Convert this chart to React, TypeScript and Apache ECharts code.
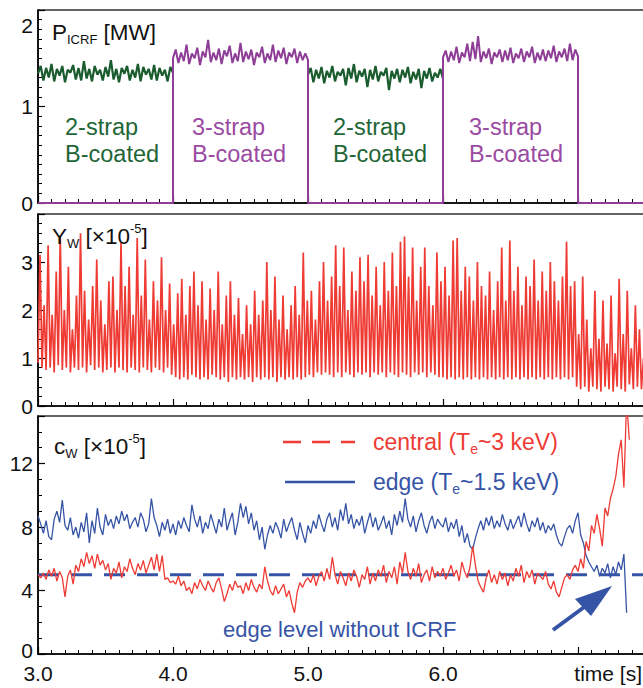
import React, { useEffect, useRef } from "react";
import * as echarts from "echarts";

const FONT = '"Liberation Sans", Arial, Helvetica, sans-serif';
const RED = "#ee3b34";
const BLUE = "#3654a6";
const GREEN = "#1b5c2e";
const GREEN_TXT = "#1f6636";
const PURPLE = "#8f3e97";
const PURPLE_TXT = "#9a4aa2";

const X_MIN = 3.0;
const X_MAX = 8.0;
const X_TICK_LABELS = ["3.0", "4.0", "5.0", "6.0"];

// ---------- Panel 1: P_ICRF [MW], sampled every 0.02 s ----------
const P_STEP = 0.02;
const pGreen1 = [1.34,1.42,1.27,1.40,1.30,1.44,1.26,1.39,1.32,1.42,1.25,1.38,1.35,1.43,1.28,1.40,1.27,1.47,1.29,1.39,1.26,1.42,1.33,1.38,1.27,1.41,1.31,1.48,1.28,1.39,1.25,1.40,1.34,1.42,1.27,1.38,1.30,1.44,1.26,1.41,1.33,1.39,1.28,1.43,1.27,1.40,1.32,1.38,1.26,1.41,1.35];
const pPurple1 = [1.50,1.59,1.45,1.56,1.47,1.64,1.44,1.55,1.50,1.61,1.43,1.57,1.51,1.69,1.46,1.56,1.48,1.60,1.44,1.58,1.52,1.63,1.45,1.55,1.47,1.66,1.46,1.57,1.49,1.59,1.43,1.56,1.51,1.62,1.45,1.55,1.48,1.64,1.46,1.58,1.50,1.61,1.44,1.56,1.51,1.60,1.45,1.57,1.48,1.55,1.48];
const pGreen2 = [1.33,1.40,1.25,1.38,1.29,1.41,1.24,1.37,1.30,1.42,1.26,1.36,1.32,1.39,1.22,1.40,1.29,1.44,1.25,1.37,1.31,1.39,1.20,1.38,1.28,1.42,1.26,1.36,1.32,1.40,1.17,1.37,1.29,1.39,1.25,1.38,1.30,1.41,1.24,1.36,1.28,1.39,1.19,1.37,1.29,1.40,1.26,1.35,1.30,1.39,1.29];
const pPurple2 = [1.51,1.58,1.46,1.57,1.48,1.62,1.45,1.56,1.51,1.65,1.47,1.67,1.49,1.73,1.46,1.57,1.50,1.60,1.44,1.56,1.51,1.59,1.46,1.58,1.48,1.61,1.45,1.55,1.50,1.60,1.46,1.57,1.51,1.62,1.45,1.56,1.48,1.59,1.47,1.58,1.50,1.63,1.46,1.57,1.51,1.60,1.47,1.65,1.48,1.59,1.52];
const P_GREEN1_START = 3.0;
const P_PURPLE1_START = 4.0;
const P_GREEN2_START = 5.0;
const P_PURPLE2_START = 6.0;
const P_OFF_END = 7.0;
const P_LAST = 7.6;

// ---------- Panel 2: Y_W [x1e-5], sampled every 0.015 s from 3.0 ----------
const YW_STEP = 0.015;
const yW = [
  0.9,3.15,0.8,2.1,0.75,3.35,0.8,1.9,0.7,2.8,0.85,3.55,0.75,2.0,0.8,2.9,0.7,1.6,0.8,2.3,
  0.75,3.6,0.8,2.4,0.7,1.8,0.85,2.5,0.75,3.05,0.8,2.2,0.7,1.7,0.75,2.6,0.8,2.7,0.7,2.0,
  0.8,3.4,0.75,2.5,0.7,2.9,0.8,1.9,0.75,3.5,0.7,2.3,0.8,3.05,0.75,1.8,0.7,2.6,0.8,2.2,
  0.75,3.1,0.7,2.0,0.8,2.55,0.65,1.7,0.6,2.35,0.55,2.65,0.6,1.9,0.55,2.5,0.65,2.8,0.6,2.1,
  0.55,2.6,0.6,1.8,0.55,2.45,0.65,2.0,0.6,2.8,0.55,1.7,0.6,2.3,0.5,2.6,0.6,1.9,0.55,2.25,
  0.6,1.5,0.55,2.1,0.6,1.7,0.5,2.4,0.6,1.9,0.55,2.2,0.6,3.0,0.55,2.0,0.6,2.7,0.5,1.8,
  0.6,2.3,0.55,1.6,0.6,2.1,0.55,2.5,0.6,1.9,0.55,3.2,0.6,2.2,0.65,2.4,0.6,1.8,0.7,2.6,
  0.65,3.0,0.7,2.2,0.65,2.7,0.6,3.35,0.7,2.5,0.6,3.3,0.7,2.0,0.65,2.8,0.6,2.4,0.7,3.1,
  0.65,2.6,0.7,3.15,0.6,2.3,0.7,2.9,0.65,2.1,0.7,3.0,0.6,2.4,0.7,3.2,0.65,2.5,0.6,3.42,
  0.7,3.53,0.65,2.7,0.6,3.3,0.7,2.2,0.65,2.9,0.7,3.3,0.6,2.5,0.7,2.1,0.65,3.2,0.6,2.6,
  0.6,2.9,0.55,2.3,0.6,3.45,0.55,3.5,0.6,2.4,0.55,2.9,0.6,2.7,0.55,2.2,0.6,3.0,0.55,2.5,
  0.6,2.3,0.55,2.8,0.6,2.0,0.55,2.6,0.6,3.3,0.55,2.2,0.6,3.45,0.55,2.4,0.6,2.9,0.55,2.1,
  0.6,2.7,0.55,2.5,0.6,3.05,0.55,2.2,0.6,2.8,0.55,2.4,0.6,3.0,0.55,2.6,0.6,2.2,0.55,2.7,
  0.6,3.42,0.55,2.5,0.6,2.6,0.4,1.5,0.35,2.7,0.4,1.8,0.3,1.2,0.4,2.4,0.35,1.4,0.3,2.2,
  0.4,1.3,0.35,2.3,0.3,1.1,0.4,2.65,0.35,1.5,0.3,2.4,0.45,1.2,0.35,2.1,0.4,1.6,0.35,1.0,
];

// ---------- Panel 3: c_W [x1e-5], sampled every 0.02 s from 3.0 ----------
const C_STEP = 0.02;
const cCentral = [
  5.0,4.8,5.1,4.7,5.3,4.9,5.4,4.6,5.2,4.8,3.6,4.9,5.3,4.4,5.6,5.2,6.0,5.5,6.4,5.7,6.2,5.4,6.3,5.6,5.9,
  5.3,5.7,4.7,5.4,5.1,5.8,4.8,5.5,5.2,6.0,5.4,5.0,5.7,5.3,5.9,5.1,5.6,6.1,5.3,6.3,5.2,6.2,4.7,4.8,4.5,
  4.6,4.4,4.9,4.3,4.6,4.0,4.2,3.8,4.5,4.1,4.7,4.3,4.0,4.6,4.2,3.9,4.5,4.8,4.1,3.3,3.8,4.4,4.0,4.6,4.2,
  4.3,3.8,4.5,4.0,4.7,4.2,3.9,4.4,4.1,5.5,4.6,4.0,3.7,4.3,3.8,4.1,4.4,3.6,4.0,3.2,2.6,3.9,4.5,4.2,4.6,
  4.8,4.5,5.0,4.3,4.9,5.2,4.6,5.4,4.7,6.1,5.0,4.4,5.2,4.8,4.3,5.1,4.6,5.3,4.9,4.2,5.0,4.7,5.5,4.4,5.1,
  4.6,5.3,4.9,5.6,4.5,5.2,4.8,5.5,4.4,5.8,5.1,6.4,5.2,4.7,5.4,4.9,5.7,4.5,5.0,5.3,4.6,5.5,4.8,5.2,4.9,
  5.4,4.7,5.1,5.6,4.9,5.3,4.6,5.8,5.2,4.8,5.5,6.8,5.6,4.6,4.2,3.9,4.8,5.3,4.5,5.0,4.4,5.2,4.7,5.1,4.3,
  5.0,4.6,5.4,4.9,5.6,4.5,5.2,4.8,5.3,4.4,5.1,4.9,4.7,5.2,4.4,4.1,4.6,3.9,3.6,4.2,4.8,5.0,4.7,5.3,5.6,
  5.2,6.0,5.4,7.1,6.5,8.1,7.6,8.8,7.9,6.8,9.2,8.7,9.8,10.4,11.2,12.6,13.5,10.5,16.0,13.5,
];
const cEdge = [
  8.7,8.2,7.6,8.4,7.4,7.2,8.5,9.0,8.3,9.7,8.1,7.8,8.6,7.5,8.0,7.3,8.3,7.7,8.9,7.0,8.4,7.6,9.2,8.0,7.5,
  8.8,8.1,8.5,7.9,8.7,8.2,9.0,8.4,8.8,7.9,8.3,8.6,8.0,8.9,8.5,7.7,8.2,9.8,8.6,8.1,7.4,8.3,7.8,8.5,7.6,
  8.2,7.5,8.4,7.9,8.6,8.1,7.7,9.4,8.5,8.0,8.7,7.6,8.3,7.9,8.8,8.2,7.6,8.5,8.0,9.2,7.8,8.4,8.9,7.5,8.3,
  9.5,8.6,9.3,8.2,8.9,7.8,8.4,7.2,8.0,6.6,7.5,8.1,7.6,8.3,7.9,7.3,8.5,7.7,8.2,8.6,7.8,7.2,8.3,7.6,7.0,
  8.1,7.6,8.4,7.9,8.8,8.2,7.7,8.5,8.9,8.0,8.6,7.8,9.1,8.4,9.5,8.2,8.8,7.9,8.5,8.1,8.7,7.6,8.3,8.9,8.0,
  8.6,7.8,8.2,8.7,7.9,8.4,7.5,8.8,8.1,9.0,8.3,9.8,8.5,8.0,8.7,7.7,8.4,8.9,8.1,7.6,8.3,8.7,7.9,8.5,8.2,
  8.0,8.6,7.7,8.3,7.9,8.5,7.4,8.1,7.0,7.6,6.8,6.6,7.3,7.9,8.4,7.8,8.6,8.1,8.7,7.9,8.4,8.0,8.8,8.2,7.8,
  8.5,7.9,8.3,8.7,8.0,8.9,8.2,7.7,8.4,8.0,8.6,7.8,8.3,7.6,8.1,7.8,8.2,7.5,7.0,6.8,7.4,7.9,8.1,7.6,8.4,
  8.9,7.5,7.0,6.2,5.8,5.5,5.2,5.6,4.9,5.4,5.1,5.7,4.8,5.5,5.0,5.8,5.3,6.3,2.6,
];
const EDGE_LEVEL_NO_ICRF = 5;

// ---------- helpers ----------
const toPairs = (start: number, step: number, vals: number[]) =>
  vals.map((v, i) => [+(start + i * step).toFixed(4), v]);

const mkX = (gi: number, showLabels: boolean) => ({
  type: "value",
  gridIndex: gi,
  min: X_MIN,
  max: X_MAX,
  interval: 1,
  axisLine: { show: true, onZero: false, lineStyle: { color: "#000", width: 1.6 } },
  axisTick: { show: true, inside: true, length: 7, lineStyle: { color: "#000", width: 1.2 } },
  minorTick: { show: true, splitNumber: 10, length: 4, lineStyle: { color: "#000", width: 1 } },
  splitLine: { show: false },
  minorSplitLine: { show: false },
  axisLabel: {
    show: showLabels,
    fontSize: 21,
    fontFamily: FONT,
    color: "#111",
    margin: 9,
    hideOverlap: false,
    formatter: (v: number) => {
      const i = Math.round(v - X_MIN);
      if (Math.abs(v - Math.round(v)) > 1e-6) return "";
      return i >= 0 && i < X_TICK_LABELS.length ? X_TICK_LABELS[i] : "";
    },
  },
});

const mkY = (gi: number, max: number, interval: number, minorSplit: number, fmt: (v: number) => string) => ({
  type: "value",
  gridIndex: gi,
  min: 0,
  max,
  interval,
  axisLine: { show: true, onZero: false, lineStyle: { color: "#000", width: 1.6 } },
  axisTick: { show: true, inside: true, length: 7, lineStyle: { color: "#000", width: 1.2 } },
  minorTick: { show: true, splitNumber: minorSplit, length: 4, lineStyle: { color: "#000", width: 1 } },
  splitLine: { show: false },
  minorSplitLine: { show: false },
  axisLabel: { fontSize: 21, fontFamily: FONT, color: "#111", margin: 5, formatter: fmt },
});

const gridBase = {
  left: 38,
  width: 675,
  show: true,
  borderColor: "#333",
  borderWidth: 1.5,
  containLabel: false,
  outerBoundsMode: "none",
};

const txt = (x: number, y: number, text: string, fill: string, extra: any = {}) => ({
  type: "text",
  x,
  y,
  z: 100,
  style: {
    text,
    fill,
    fontFamily: FONT,
    fontSize: 22,
    align: "left",
    textAlign: "left",
    verticalAlign: "middle",
    textVerticalAlign: "middle",
    ...extra,
  },
});

const richLabel = (mainSize: number, fill: string) => ({
  m: { fontSize: mainSize, lineHeight: 28, fontFamily: FONT, fill },
  s: { fontSize: 13, lineHeight: 13, verticalAlign: "bottom", fontFamily: FONT, fill },
  p: { fontSize: 13, lineHeight: 21, verticalAlign: "top", fontFamily: FONT, fill },
});

export default function App() {
  const ref = useRef<HTMLDivElement>(null);

  useEffect(() => {
    if (!ref.current) return;
    const chart = echarts.init(ref.current, undefined, { renderer: "svg" });

    const purpleData = [
      [P_GREEN1_START, 0],
      [P_PURPLE1_START, 0],
      ...toPairs(P_PURPLE1_START, P_STEP, pPurple1),
      [P_GREEN2_START, 0],
      [P_PURPLE2_START, 0],
      ...toPairs(P_PURPLE2_START, P_STEP, pPurple2),
      [P_OFF_END, 0],
      [P_LAST, 0],
    ];

    const lineBase = { type: "line", showSymbol: false, symbol: "none", animation: false, clip: true };

    const series: any[] = [
      { ...lineBase, name: "green1", xAxisIndex: 0, yAxisIndex: 0, data: toPairs(P_GREEN1_START, P_STEP, pGreen1), lineStyle: { color: GREEN, width: 2.2 } },
      { ...lineBase, name: "green2", xAxisIndex: 0, yAxisIndex: 0, data: toPairs(P_GREEN2_START, P_STEP, pGreen2), lineStyle: { color: GREEN, width: 2.2 } },
      { ...lineBase, name: "purple", xAxisIndex: 0, yAxisIndex: 0, data: purpleData, lineStyle: { color: PURPLE, width: 2 } },
      { ...lineBase, name: "Yw", xAxisIndex: 1, yAxisIndex: 1, data: toPairs(X_MIN, YW_STEP, yW), lineStyle: { color: RED, width: 1.7 } },
      { ...lineBase, name: "edgeLevel", xAxisIndex: 2, yAxisIndex: 2, z: 1, data: [[X_MIN, EDGE_LEVEL_NO_ICRF], [P_LAST, EDGE_LEVEL_NO_ICRF]], lineStyle: { color: BLUE, width: 3, type: [21, 12] } },
      { ...lineBase, name: "edge", xAxisIndex: 2, yAxisIndex: 2, z: 2, data: toPairs(X_MIN, C_STEP, cEdge), lineStyle: { color: BLUE, width: 1.3 } },
      { ...lineBase, name: "central", xAxisIndex: 2, yAxisIndex: 2, z: 3, data: toPairs(X_MIN, C_STEP, cCentral), lineStyle: { color: RED, width: 1.3 } },
    ];

    const graphic: any[] = [
      txt(33, 25, "2", "#111", { fontSize: 21, align: "right", textAlign: "right" }),
      txt(33, 650, "0", "#111", { fontSize: 21, align: "right", textAlign: "right" }),
      {
        type: "text", x: 52, y: 32, z: 100,
        style: { text: "{m|P}{s|ICRF}{m| [MW]}", fill: "#111", verticalAlign: "middle", textVerticalAlign: "middle", rich: richLabel(22.5, "#111") },
      },
      {
        type: "text", x: 52, y: 236, z: 100,
        style: { text: "{m|Y}{s|W}{m| [×10}{p|-5}{m|]}", fill: "#111", verticalAlign: "middle", textVerticalAlign: "middle", rich: richLabel(22.5, "#111") },
      },
      {
        type: "text", x: 54, y: 446, z: 100,
        style: { text: "{m|c}{s|W}{m| [×10}{p|-5}{m|]}", fill: "#111", verticalAlign: "middle", textVerticalAlign: "middle", rich: richLabel(22.5, "#111") },
      },
      txt(65, 140, "2-strap\nB-coated", GREEN_TXT, { fontSize: 23.5, lineHeight: 27 }),
      txt(192, 140, "3-strap\nB-coated", PURPLE_TXT, { fontSize: 23.5, lineHeight: 27 }),
      txt(333, 140, "2-strap\nB-coated", GREEN_TXT, { fontSize: 23.5, lineHeight: 27 }),
      txt(469, 140, "3-strap\nB-coated", PURPLE_TXT, { fontSize: 23.5, lineHeight: 27 }),
      { type: "line", z: 100, shape: { x1: 283, y1: 442, x2: 355, y2: 442 }, style: { stroke: RED, lineWidth: 2.5, lineDash: [18, 11] } },
      { type: "line", z: 100, shape: { x1: 285, y1: 482, x2: 355, y2: 482 }, style: { stroke: BLUE, lineWidth: 2.5 } },
      {
        type: "text", x: 373, y: 442, z: 100,
        style: {
          text: "{a|central (T}{b|e}{a|~3 keV)}", fill: RED, verticalAlign: "middle", textVerticalAlign: "middle",
          rich: {
            a: { fontSize: 23, lineHeight: 28, fontFamily: FONT, fill: RED },
            b: { fontSize: 14, lineHeight: 14, verticalAlign: "bottom", fontFamily: FONT, fill: RED },
          },
        },
      },
      {
        type: "text", x: 373, y: 482, z: 100,
        style: {
          text: "{a|edge (T}{b|e}{a|~1.5 keV)}", fill: BLUE, verticalAlign: "middle", textVerticalAlign: "middle",
          rich: {
            a: { fontSize: 23, lineHeight: 28, fontFamily: FONT, fill: BLUE },
            b: { fontSize: 14, lineHeight: 14, verticalAlign: "bottom", fontFamily: FONT, fill: BLUE },
          },
        },
      },
      txt(223, 629, "edge level without ICRF", BLUE),
      { type: "line", z: 100, shape: { x1: 553, y1: 630, x2: 587, y2: 605 }, style: { stroke: BLUE, lineWidth: 4 } },
      { type: "polygon", z: 100, shape: { points: [[612, 586], [575, 599], [591, 616]] }, style: { fill: BLUE } },
      txt(642, 673, "time [s]", "#111", { fontSize: 21, align: "right", textAlign: "right" }),
    ];

    const option: any = {
      animation: false,
      backgroundColor: "#fff",
      grid: [
        { ...gridBase, top: 10, height: 193 },
        { ...gridBase, top: 214, height: 192 },
        { ...gridBase, top: 416, height: 238 },
      ],
      xAxis: [mkX(0, false), mkX(1, false), mkX(2, true)],
      yAxis: [
        mkY(0, 2, 1, 10, (v: number) => (v === 0 || v === 1 ? String(v) : "")),
        mkY(1, 4, 1, 5, (v: number) => (v >= 0 && v <= 3 && Number.isInteger(v) ? String(v) : "")),
        mkY(2, 15, 4, 4, (v: number) => (v > 0 && v % 4 === 0 ? String(v) : "")),
      ],
      series,
      graphic,
    };

    chart.setOption(option);
    return () => chart.dispose();
  }, []);

  return (
    <div
      ref={ref}
      style={{ position: "fixed", left: 0, top: 0, width: 643, height: 688, background: "#fff" }}
    />
  );
}
